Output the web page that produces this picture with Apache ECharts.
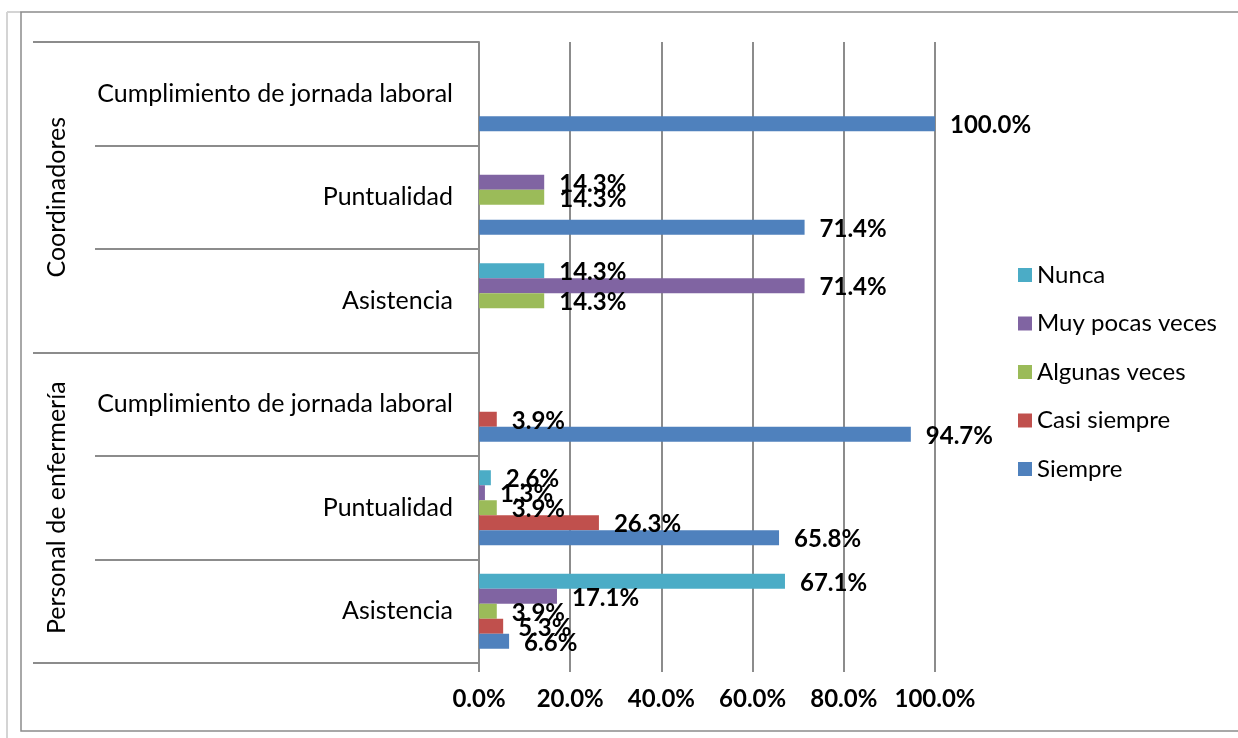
<!DOCTYPE html>
<html>
<head>
<meta charset="utf-8">
<script src="https://cdn.jsdelivr.net/npm/echarts@6/dist/echarts.min.js"></script>
<style>
  html, body { margin: 0; padding: 0; background: #fff; }
  #chart { width: 1238px; height: 738px; }
</style>
</head>
<body>
<div id="chart"></div>
<script>
(function () {

  // categories from bottom to top, as the y axis draws them
  var categories = ['Asistencia', 'Puntualidad', 'Cumplimiento de jornada laboral',
    'Asistencia', 'Puntualidad', 'Cumplimiento de jornada laboral'];
  var groups = ['Personal de enfermería', 'Coordinadores'];
  var xTicks = [0, 20, 40, 60, 80, 100];

  var nunca = [67.1, 2.6, null, 14.3, null, null];
  var muyPocas = [17.1, 1.3, null, 71.4, 14.3, null];
  var algunas = [3.9, 3.9, null, 14.3, 14.3, null];
  var casiSiempre = [5.3, 26.3, 3.9, null, null, null];
  var siempre = [6.6, 65.8, 94.7, null, 71.4, 100.0];

  var font = 'Lato';
  var gray = '#8c8c8c';

  function bar(name, data, color) {
    return {
      name: name,
      type: 'bar',
      data: data,
      barWidth: 15,
      barGap: '0%',
      itemStyle: {color: color},
      label: {
        show: true,
        position: 'right',
        distance: 15,
        offset: [0, 2],
        color: '#000',
        fontFamily: font,
        fontWeight: 'bold',
        fontSize: 24,
        formatter: function (p) {
          return p.value.toFixed(1) + '%';
        }
      }
    };
  }

  var myChart = echarts.init(document.getElementById('chart'));
  var option = {
    backgroundColor: '#fff',
    animation: false,
    textStyle: {fontFamily: font},
    graphic: [
      {type: 'line', shape: {x1: 7, y1: 12, x2: 7, y2: 738}, style: {stroke: '#d4d4d4', lineWidth: 2}},
      {type: 'line', shape: {x1: 7, y1: 12, x2: 21, y2: 12}, style: {stroke: '#d4d4d4', lineWidth: 2}},
      {type: 'rect', shape: {x: 21, y: 12, width: 1300, height: 719}, style: {fill: 'none', stroke: '#8c8c8c', lineWidth: 1.5}}
    ],
    legend: {
      orient: 'vertical',
      left: 1013,
      top: 258,
      icon: 'rect',
      itemWidth: 14,
      itemHeight: 14,
      itemGap: 24.5,
      textStyle: {fontSize: 24, color: '#000', fontFamily: font}
    },
    grid: {left: 479, right: 303, top: 42, bottom: 75},
    xAxis: {
      type: 'value',
      min: xTicks[0],
      max: xTicks[xTicks.length - 1],
      interval: 20,
      axisLine: {show: false},
      axisTick: {show: true, length: 9, lineStyle: {color: gray, width: 2}},
      splitLine: {show: true, lineStyle: {color: gray, width: 2}},
      axisLabel: {
        margin: 24,
        color: '#000',
        fontFamily: font,
        fontWeight: 'bold',
        fontSize: 24,
        formatter: function (v) { return v.toFixed(1) + '%'; }
      }
    },
    yAxis: [
      {
        type: 'category',
        data: categories,
        position: 'left',
        axisLine: {show: true, lineStyle: {color: gray, width: 2}},
        axisTick: {show: true, interval: 0, length: 384, lineStyle: {color: gray, width: 2}},
        axisLabel: {interval: 0, margin: 26, color: '#000', fontFamily: font, fontSize: 25}
      },
      {
        type: 'category',
        data: groups,
        position: 'left',
        offset: 0,
        axisLine: {show: false},
        axisTick: {show: true, interval: 0, length: 446, lineStyle: {color: gray, width: 2}},
        axisLabel: {interval: 0, rotate: 90, margin: 410, color: '#000', fontFamily: font, fontSize: 25}
      }
    ],
    series: [
      bar('Nunca', nunca, '#4BACC6'),
      bar('Muy pocas veces', muyPocas, '#8064A2'),
      bar('Algunas veces', algunas, '#9BBB59'),
      bar('Casi siempre', casiSiempre, '#C0504D'),
      bar('Siempre', siempre, '#4F81BD')
    ]
  };

  myChart.setOption(option);
})();
</script>
</body>
</html>
